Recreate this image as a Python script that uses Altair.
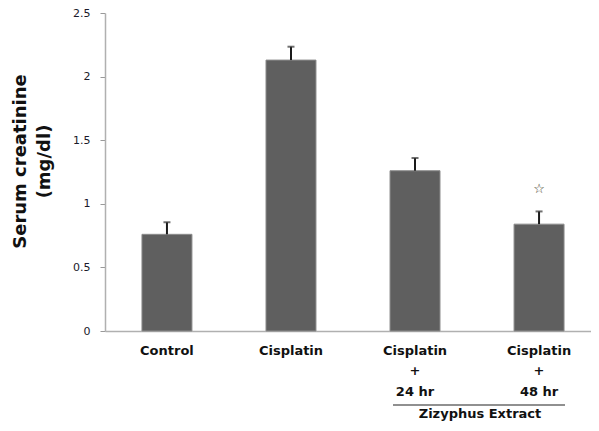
import altair as alt
import pandas as pd

groups = ["Control", "Cisplatin", "Cisplatin|+|24 hr", "Cisplatin|+|48 hr"]
means = [0.76, 2.13, 1.26, 0.84]
errors = [0.095, 0.105, 0.10, 0.10]
markers = ["", "", "", "☆"]
marker_y = [None, None, None, 1.12]
bracket_label = "Zizyphus Extract"
y_title = ["Serum creatinine", "(mg/dl)"]

df = pd.DataFrame({"group": groups, "mean": means, "err": errors})
df["upper"] = df["mean"] + df["err"]
mk = pd.DataFrame({"group": groups, "marker": markers, "y": marker_y}).dropna()

FONT = "DejaVu Sans"

xscale = alt.Scale(paddingInner=0.597, paddingOuter=0.298, range=[0, 496])
xenc = alt.X("group:N", sort=groups, scale=xscale,
             axis=alt.Axis(title=None, labelExpr="split(datum.label, '|')",
                           labelAngle=0, ticks=False, domainColor="#b0b0b0",
                           domainWidth=1.5, labelFont=FONT, labelFontSize=13,
                           labelFontWeight="bold", labelColor="#111",
                           labelLineHeight=20.5, labelPadding=13))

yscale = alt.Scale(domain=[0, 2.5], nice=False)
yaxis = alt.Axis(values=[0, 0.5, 1, 1.5, 2, 2.5], format="~g", grid=False,
                 title=y_title, titleFont=FONT, titleFontSize=18,
                 titleFontWeight="bold", titleColor="#111", titleLineHeight=24,
                 titleX=-94, titleY=148, titleBaseline="top", titleAngle=-90,
                 labelFont=FONT, labelFontSize=11, labelColor="#1a1a2a",
                 tickColor="#999", tickSize=5, labelPadding=10,
                 domainColor="#b0b0b0", domainWidth=1.5)

bars = alt.Chart(df).mark_bar(color="#5f5f5f", stroke="#8c8c8c", strokeWidth=1).encode(
    x=xenc,
    y=alt.Y("mean:Q", scale=yscale, axis=yaxis),
)

err = alt.Chart(df).mark_rule(color="#1a1a1a", strokeWidth=2).encode(
    x=alt.X("group:N", sort=groups), y="mean:Q", y2="upper:Q")

caps = alt.Chart(df).mark_tick(color="#333", thickness=2, size=7).encode(
    x=alt.X("group:N", sort=groups), y="upper:Q")

star = alt.Chart(mk).mark_text(font=FONT, fontSize=13, color="#3a3520").encode(
    x=alt.X("group:N", sort=groups), y="y:Q", text="marker:N")

bracket = alt.Chart(pd.DataFrame({"t": [bracket_label]})).mark_rule(
    color="#222", strokeWidth=1.2).encode(
    x=alt.value(288), x2=alt.value(460), y=alt.value(392))

bracket_text = alt.Chart(pd.DataFrame({"t": [bracket_label]})).mark_text(
    font=FONT, fontSize=13, fontWeight="bold", color="#111",
    baseline="alphabetic").encode(
    x=alt.value(375), y=alt.value(405), text="t:N")

chart = alt.layer(bars, err, caps, star, bracket, bracket_text).properties(
    width=486, height=318,
    autosize=alt.AutoSizeParams(type="none"),
    padding={"left": 97, "top": 5, "right": 0, "bottom": 90},
).configure_view(stroke=None)

chart.save("out.html", embed_options={"renderer": "svg", "actions": False})
